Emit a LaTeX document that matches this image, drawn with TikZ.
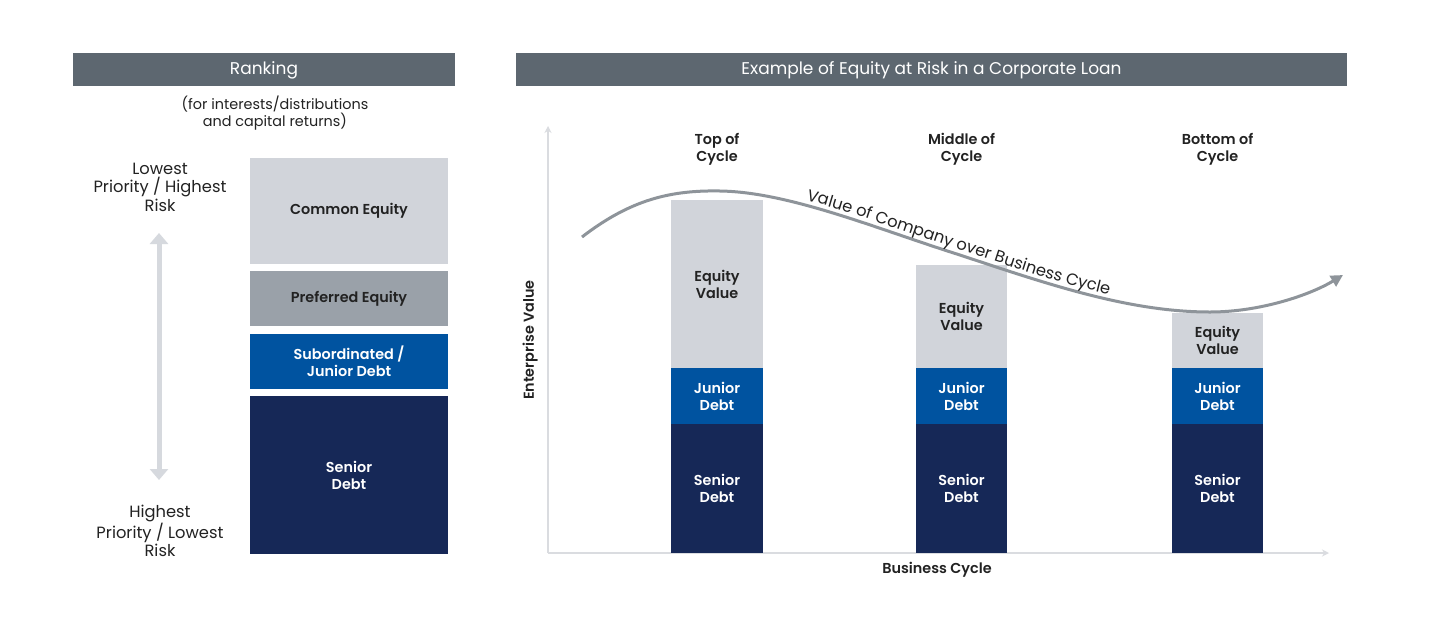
\documentclass[tikz,border=0pt]{standalone}
\usepackage{fontspec}
\setmainfont{Poppins}[BoldFont={* SemiBold}]
\usetikzlibrary{arrows.meta,decorations.text}
\definecolor{hdr}{HTML}{5D6770}
\definecolor{lgray}{HTML}{D1D4DA}
\definecolor{mgray}{HTML}{9AA1A9}
\definecolor{jblue}{HTML}{0053A0}
\definecolor{navy}{HTML}{162857}
\definecolor{agray}{HTML}{D6D9DE}
\definecolor{axgray}{HTML}{DADCE0}
\definecolor{cgray}{HTML}{8E949A}
\definecolor{ink}{HTML}{222222}
\newcommand\curvefont{\fontsize{16.3}{18}\selectfont}
\begin{document}
\begin{tikzpicture}[x=1pt,y=-1pt,
  hdrbox/.style={fill=hdr,text=white,minimum height=33pt,inner sep=0pt,text height=12pt,text depth=2pt,font=\fontsize{17}{20}\selectfont},
  blk/.style={inner sep=0pt,align=center,font=\bfseries\fontsize{14.4}{17}\selectfont},
  lab/.style={inner sep=0pt,align=center,text=ink,font=\fontsize{16.3}{18.5}\selectfont},
  sublab/.style={inner sep=0pt,align=center,text=ink,font=\fontsize{14.4}{17}\selectfont},
  blab/.style={inner sep=0pt,align=center,text=ink,font=\bfseries\fontsize{14.4}{17}\selectfont},
  ltgray/.style={blk,fill=lgray,text=ink},
  mdgray/.style={blk,fill=mgray,text=ink},
  blue/.style={blk,fill=jblue,text=white},
  dark/.style={blk,fill=navy,text=white}]
\useasboundingbox[fill=white] (0,0) rectangle (1435,630);
% headers
\node[hdrbox,minimum width=382pt] (h1) at (264,69.5) {Ranking};
\node[hdrbox,minimum width=831pt] (h2) at (931.5,69.5) {Example of Equity at Risk in a Corporate Loan};
\node[sublab] (sub) at (275,113) {(for interests/distributions\\and capital returns)};
% left stack
\node[ltgray,minimum width=198pt,minimum height=106pt] (ce) at (349,211) {Common Equity};
\node[mdgray,minimum width=198pt,minimum height=55pt] (pe) at (349,298.5) {Preferred Equity};
\node[blue,minimum width=198pt,minimum height=55pt] (sj) at (349,361.5) {Subordinated /\\Junior Debt};
\node[dark,minimum width=198pt,minimum height=158pt] (sn) at (349,475) {Senior\\Debt};
\node[lab] (low) at (160,187) {Lowest\\Priority / Highest\\Risk};
\node[lab] (high) at (160,531) {Highest\\Priority / Lowest\\Risk};
\coordinate (atop) at (159,233);
\coordinate (abot) at (159,480);
\draw[agray,line width=5pt,{Triangle[width=18pt,length=11pt]}-{Triangle[width=18pt,length=11pt]}] (atop) -- (abot);
% axes
\coordinate (o) at (548,553);
\coordinate (ytop) at (548,126);
\coordinate (xend) at (1329,553);
\draw[axgray,line width=2pt,-{Stealth[length=7pt,width=7pt]}] (o) -- (ytop);
\draw[axgray,line width=2pt,-{Stealth[length=7pt,width=7pt]}] (o) -- (xend);
\node[blab,rotate=90] (ev) at (530,340) {Enterprise Value};
\node[blab] (bc) at (937,570) {Business Cycle};
% bars
\node[ltgray,minimum width=92pt,minimum height=168pt] (e1) at (717,284) {Equity\\Value};
\node[blue,minimum width=92pt,minimum height=56pt] (j1) at (717,396) {Junior\\Debt};
\node[dark,minimum width=92pt,minimum height=129pt] (s1) at (717,488.5) {Senior\\Debt};
\node[ltgray,minimum width=91pt,minimum height=103pt] (e2) at (961.5,316.5) {Equity\\Value};
\node[blue,minimum width=91pt,minimum height=56pt] (j2) at (961.5,396) {Junior\\Debt};
\node[dark,minimum width=91pt,minimum height=129pt] (s2) at (961.5,488.5) {Senior\\Debt};
\node[ltgray,minimum width=91pt,minimum height=55pt] (e3) at (1217.5,340.5) {Equity\\Value};
\node[blue,minimum width=91pt,minimum height=56pt] (j3) at (1217.5,396) {Junior\\Debt};
\node[dark,minimum width=91pt,minimum height=129pt] (s3) at (1217.5,488.5) {Senior\\Debt};
\node[blab] (t1) at (717,149.5) {Top of\\Cycle};
\node[blab] (t2) at (961.5,149.5) {Middle of\\Cycle};
\node[blab] (t3) at (1217.5,149.5) {Bottom of\\Cycle};
% curve
\coordinate (c0) at (582,237);
\coordinate (c1) at (720,191);
\coordinate (c2) at (960,255);
\coordinate (c3) at (1210,312);
\coordinate (c4) at (1343,275);
\draw[cgray,line width=3pt,-{Triangle[width=12pt,length=12pt]}]
  (c0) .. controls (630,200) and (670,190) .. (c1)
  .. controls (790,192) and (880,230) .. (c2)
  .. controls (1050,285) and (1130,312) .. (c3)
  .. controls (1260,312) and (1310,295) .. (c4);
\path[decorate,decoration={text along path,raise=5pt,text color=ink,
  text align={left indent=86pt},
  text={|\curvefont|Value of Company over Business Cycle}}]
  (c1) .. controls (790,192) and (880,230) .. (c2)
  .. controls (1050,285) and (1130,312) .. (c3);
\end{tikzpicture}
\end{document}
